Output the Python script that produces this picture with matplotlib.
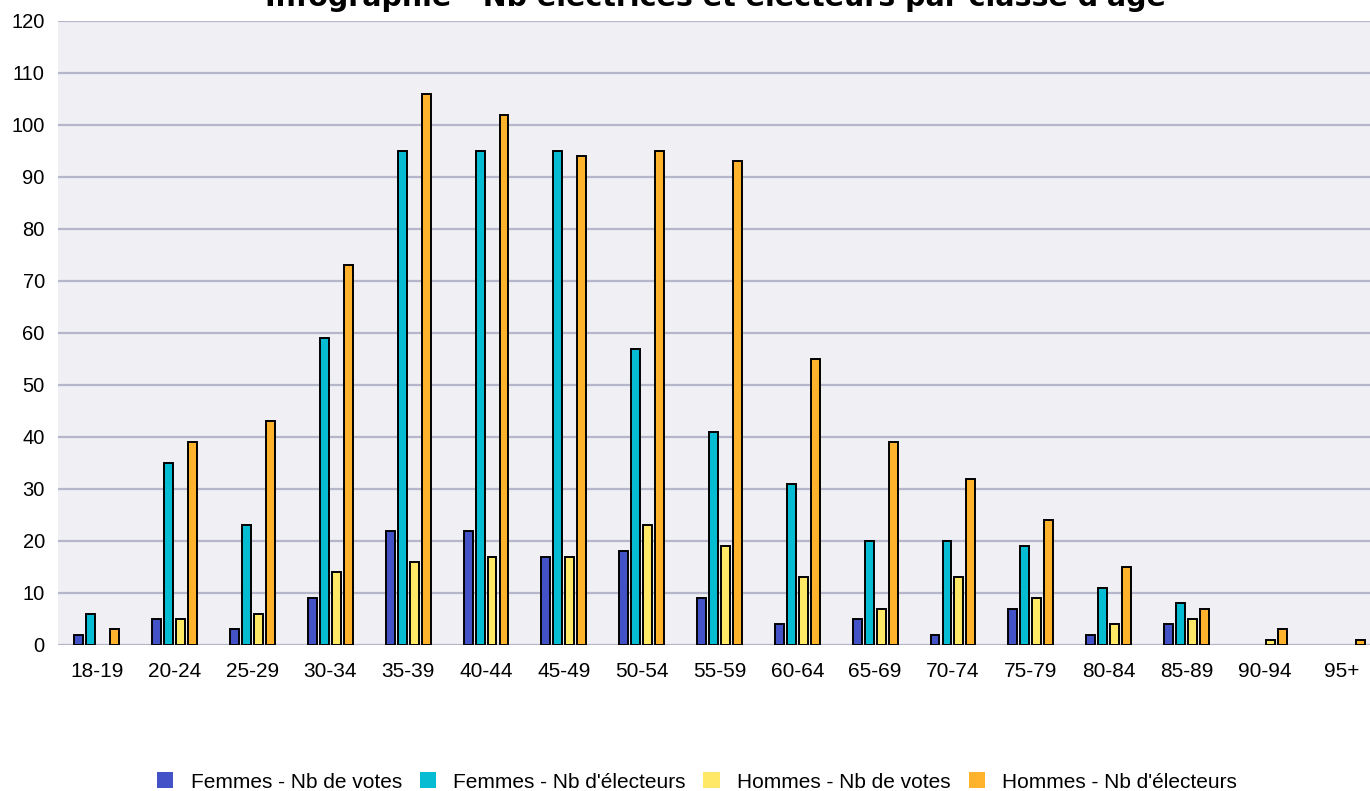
import numpy as np
import matplotlib
matplotlib.use("Agg")
import matplotlib.pyplot as plt
from matplotlib.patches import Patch

categories = ["18-19", "20-24", "25-29", "30-34", "35-39", "40-44", "45-49", "50-54",
              "55-59", "60-64", "65-69", "70-74", "75-79", "80-84", "85-89", "90-94", "95+"]
femmes_votes = [2, 5, 3, 9, 22, 22, 17, 18, 9, 4, 5, 2, 7, 2, 4, 0, 0]
femmes_electeurs = [6, 35, 23, 59, 95, 95, 95, 57, 41, 31, 20, 20, 19, 11, 8, 0, 0]
hommes_votes = [0, 5, 6, 14, 16, 17, 17, 23, 19, 13, 7, 13, 9, 4, 5, 1, 0]
hommes_electeurs = [3, 39, 43, 73, 106, 102, 94, 95, 93, 55, 39, 32, 24, 15, 7, 3, 1]
series_labels = ["Femmes - Nb de votes", "Femmes - Nb d'électeurs",
                 "Hommes - Nb de votes", "Hommes - Nb d'électeurs"]
title = "Infographie - Nb électrices et électeurs par classe d'âge"

colors = ["#4452c8", "#06bcd2", "#ffe866", "#ffb22c"]
series = [femmes_votes, femmes_electeurs, hommes_votes, hommes_electeurs]

W, H = 1370, 791
fig = plt.figure(figsize=(W / 100, H / 100), dpi=100)
ax = fig.add_axes([58 / W, 146 / H, 1323 / W, 624 / H])
ax.set_facecolor("#efeff4")

x = np.arange(len(categories))
step = 0.154
width = 0.115
for i, (vals, col) in enumerate(zip(series, colors)):
    v = np.array(vals, dtype=float)
    v[v == 0] = np.nan
    ax.bar(x + (i - 1.5) * step, v, width=width, color=col,
           edgecolor="black", linewidth=1.4, zorder=3)

ax.set_xlim(-0.5, len(categories) - 0.5)
ax.set_ylim(0, 120)
ax.set_yticks(np.arange(0, 121, 10))
ax.yaxis.grid(True, color="#b6b6ca", linewidth=1.6, zorder=0)
ax.set_axisbelow(True)
for s in ax.spines.values():
    s.set_visible(False)
ax.set_xticks(x)
ax.set_xticklabels(categories)
tick_font = "Liberation Sans"
ax.tick_params(axis="both", length=0, colors="black")
ax.tick_params(axis="x", pad=12, labelsize=15)
ax.tick_params(axis="y", pad=9.5, labelsize=14.5)
for lbl in ax.get_xticklabels() + ax.get_yticklabels():
    lbl.set_family(tick_font)

fig.text(715 / W, 1 - 6 / H, title, ha="center", va="baseline",
         fontsize=20.5, fontweight="bold")

handles = [Patch(facecolor=c, edgecolor="none") for c in colors]
fig.legend(handles, series_labels, loc="center", bbox_to_anchor=(697 / W, 1 - 782 / H),
           ncol=4, frameon=False, prop={"family": "Liberation Sans", "size": 15},
           handlelength=0.8, handleheight=0.78, handletextpad=0.82, columnspacing=0.85)

fig.savefig("out.png", dpi=100)
